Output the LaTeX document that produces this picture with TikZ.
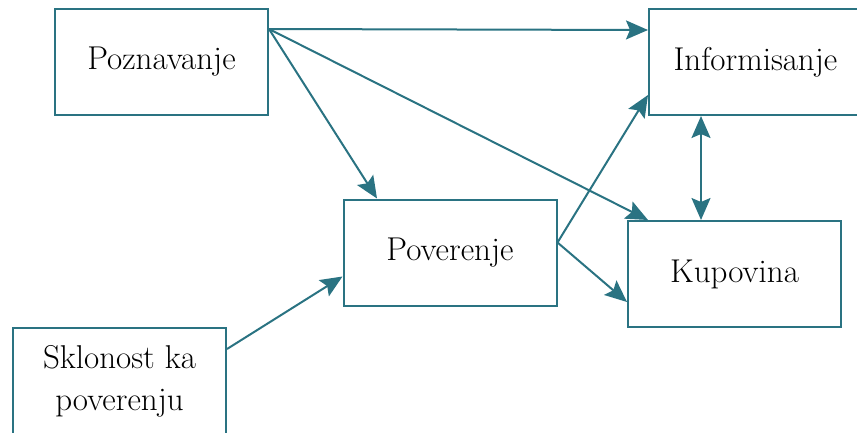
\documentclass[tikz,border=0pt]{standalone}
\usetikzlibrary{arrows.meta}
\definecolor{teal1}{RGB}{42,115,130}
\tikzset{
  box/.style={draw=teal1, line width=2pt, fill=white, minimum width=213pt, minimum height=106pt, inner sep=0pt, align=center, font=\fontsize{33}{42}\selectfont},
  conn/.style={draw=teal1, line width=2pt, -{Stealth[length=22pt,width=19pt,inset=4pt]}},
  dconn/.style={draw=teal1, line width=2pt, {Stealth[length=22pt,width=19pt,inset=4pt]}-{Stealth[length=22pt,width=19pt,inset=4pt]}}
}
\begin{document}
\begin{tikzpicture}[x=1pt,y=-1pt]
\useasboundingbox (0,0) rectangle (857,432);
\clip (0,0) rectangle (857,432);
\node[box] (pozn) at (161.5,62) {Poznavanje};
\node[box] (infor) at (755.5,62) {Informisanje};
\node[box] (pov) at (450,252.5) {Poverenje};
\node[box] (kup) at (734.5,274) {Kupovina};
\node[box] (skl) at (119.5,381) {Sklonost ka\\poverenju};
\draw[conn] ([yshift=-21pt]pozn.north east) -- ([yshift=32pt]infor.west);
\draw[conn] ([yshift=-21pt]pozn.north east) -- ([xshift=-73pt]pov.north);
\draw[conn] ([yshift=-21pt]pozn.north east) -- ([xshift=-86.5pt]kup.north);
\draw[conn] ([yshift=10pt]pov.east) -- ([yshift=-33pt]infor.west);
\draw[conn] ([yshift=10pt]pov.east) -- ([yshift=-28pt]kup.west);
\draw[dconn] ([xshift=-54.5pt]infor.south) -- ([xshift=-33.5pt]kup.north);
\draw[conn] ([yshift=32pt]skl.east) -- ([yshift=-24pt]pov.west);
\end{tikzpicture}
\end{document}
